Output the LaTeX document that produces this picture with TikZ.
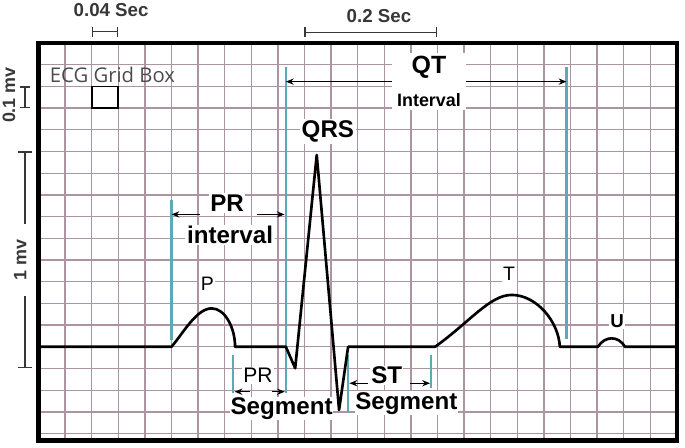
\documentclass[tikz,border=0pt]{standalone}
\usepackage{fontspec}
\setmainfont{Liberation Sans}
\newfontfamily\boxfont{Open Sans}
\usetikzlibrary{arrows.meta}

\definecolor{gridpink}{RGB}{172,148,162}
\definecolor{guidecyan}{RGB}{92,170,178}
\definecolor{inkgrey}{RGB}{55,55,55}

\tikzset{
  gridline/.style={draw=gridpink, line width=0.8pt},
  guide/.style={draw=guidecyan, line width=1.3pt},
  wave/.style={line width=1.7pt, line join=round},
  lbl/.style={fill=white, inner sep=1pt, font=\fontsize{15.5}{17}\selectfont\bfseries},
  small/.style={fill=white, inner sep=1pt, font=\fontsize{12.5}{14}\selectfont},
  scalebar/.style={draw=inkgrey, line width=1pt, {Bar[width=6.5pt]}-{Bar[width=6.5pt]}},
  scaletext/.style={text=inkgrey, font=\fontsize{12}{14}\selectfont\bfseries},
}

\begin{document}
\begin{tikzpicture}[x=17.07pt, y=13.925pt, >={Stealth[length=5pt,width=4pt]}]

\useasboundingbox (-1.447,-4.618) rectangle (24.305,15.982);

% grid paper
\foreach \gx in {1,...,23}
  \draw[gridline] (\gx,-4.32) -- (\gx,14);
\foreach \gy in {-4,...,13}
  \draw[gridline] (0,\gy) -- (24,\gy);
\draw[line width=3pt] (0,-4.32) rectangle (24,14);

% scale marks
\draw[scalebar] (2,14.52) -- (3,14.52);
\node[scaletext] (tsmall) at (2.73,15.52) {0.04 Sec};

\draw[scalebar] (10,14.49) -- (15,14.49);
\node[scaletext] (tbig) at (12.8,15.22) {0.2 Sec};

\draw[scalebar, {Bar[width=6pt]}-{Bar[width=6pt]}] (-0.51,11) -- (-0.51,12);
\node[scaletext, font=\fontsize{11.5}{13}\selectfont\bfseries, rotate=90] (vsmall) at (-1.11,11.6) {0.1 mv};

\coordinate (mvbot) at (-0.51,-1);
\coordinate (mvtop) at (-0.51,9);
\draw[scalebar, {Bar[width=8.5pt]}-{Bar[width=8.5pt]}] (mvbot) -- node[scaletext, fill=white, rotate=90,
  font=\fontsize{11.5}{13}\selectfont\bfseries, inner xsep=10pt, inner ysep=1pt, yshift=3pt] (vbig) {1 mv} (mvtop);

% grid box
\node[text=black!70, font=\boxfont\fontsize{13}{15}\selectfont] (boxname) at (2.78,12.53) {ECG Grid Box};
\draw[line width=1.1pt] (2,11) rectangle (3,12);

% guide lines
\draw[guide] (5,6.76) -- (5,0.31);
\draw[guide] (9.3,12.89) -- (9.3,-2.13);
\draw[guide] (19.85,12.89) -- (19.85,0.36);
\draw[guide] (7.33,-0.38) -- (7.33,-2.13);
\draw[guide] (11.65,-0.38) -- (11.65,-3.0);
\draw[guide] (14.76,-0.38) -- (14.76,-1.9);

% the trace
\draw[wave] (0,0) -- (5,0)
  .. controls (5.45,0.65) and (5.95,1.77) .. (6.51,1.77)
  .. controls (7.0,1.77) and (7.39,0.9) .. (7.39,0)
  -- (9.3,0) -- (9.65,-0.99) -- (10.46,8.84) -- (11.3,-2.91) -- (11.64,0)
  -- (14.91,0)
  .. controls (16.22,1.15) and (16.97,2.39) .. (17.79,2.39)
  .. controls (18.7,2.39) and (19.55,1.2) .. (19.6,0)
  -- (21.03,0)
  .. controls (21.3,0.52) and (21.8,0.52) .. (22.05,0)
  -- (24,0);

% wave names
\node[lbl] (qrs) at (10.88,9.92) {QRS};
\node[small] (pwave) at (6.35,2.89) {P};
\node[small] (twave) at (17.69,3.38) {T};
\node[small, font=\fontsize{12}{14}\selectfont\bfseries] (uwave) at (21.75,1.19) {U};

% QT interval
\coordinate (qtl) at (9.3,12.22);
\coordinate (qtr) at (19.85,12.22);
\node[lbl, align=center, inner xsep=3pt, inner ysep=2pt] (qt) at (14.68,12.22)
  {\fontsize{16}{16}\selectfont QT\\[4pt]\fontsize{11.5}{12}\selectfont Interval};
\draw[->, line width=1pt] (qt) -- (qtl);
\draw[->, line width=1pt] (qt) -- (qtr);

% PR interval
\node[lbl] (print) at (7.09,6.63) {PR};
\node[lbl] (prword) at (7.2,5.15) {interval};
\coordinate (pia) at (6.07,6.1);
\coordinate (pib) at (5.0,6.1);
\coordinate (pic) at (8.21,6.1);
\coordinate (pid) at (9.25,6.1);
\draw[->, line width=1pt] (pia) -- (pib);
\draw[->, line width=1pt] (pic) -- (pid);

% PR segment
\node[small, font=\fontsize{13.5}{15}\selectfont] (prseg) at (8.25,-1.33) {PR};
\node[lbl, inner sep=0.5pt] (prsegword) at (9.14,-2.85) {Segment};
\coordinate (psa) at (7.95,-2.07);
\coordinate (psb) at (7.37,-2.07);
\coordinate (psc) at (8.78,-2.07);
\coordinate (psd) at (9.26,-2.07);
\draw[->, line width=0.9pt] (psa) -- (psb);
\draw[->, line width=0.9pt] (psc) -- (psd);

% ST segment
\node[lbl, inner sep=0.5pt] (st) at (13.09,-1.32) {ST};
\node[lbl, inner sep=0.5pt] (stword) at (13.83,-2.6) {Segment};
\coordinate (sta) at (12.39,-1.68);
\coordinate (stb) at (11.69,-1.68);
\coordinate (stc) at (13.97,-1.68);
\coordinate (std) at (14.72,-1.68);
\draw[->, line width=0.9pt] (sta) -- (stb);
\draw[->, line width=0.9pt] (stc) -- (std);

\end{tikzpicture}
\end{document}
